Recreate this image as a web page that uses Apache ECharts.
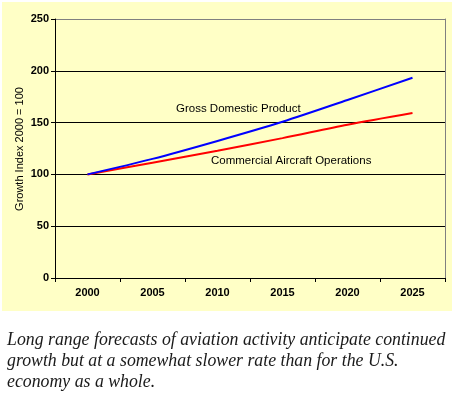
<!DOCTYPE html>
<html><head><meta charset="utf-8">
<script src="https://cdn.jsdelivr.net/npm/echarts@6/dist/echarts.min.js"></script>
<style>html,body{margin:0;padding:0;background:#fff}#c{width:458px;height:393px}</style>
</head><body><div id="c"></div>
<script>
var years = ['2000','2005','2010','2015','2020','2025'];
var gdp = [100, 115.0, 132.3, 150.8, 171.8, 193.3];
var ops = [100, 111.3, 122.8, 135.0, 148.0, 159.3];
var gdpLabel = 'Gross Domestic Product';
var opsLabel = 'Commercial Aircraft Operations';
var yTitle = 'Growth Index 2000 = 100';
var caption = ['Long range forecasts of aviation activity anticipate continued',
               'growth but at a somewhat slower rate than for the U.S.',
               'economy as a whole.'];

var chart = echarts.init(document.getElementById('c'), null, {renderer:'canvas'});
var tickFont = {color:'#000', fontFamily:'Arial, Liberation Sans, sans-serif', fontSize:11, fontWeight:'bold'};
chart.setOption({
  animation:false,
  backgroundColor:'#fff',
  grid:{left:55, right:13, top:19, bottom:115},
  graphic:[
    {type:'rect', z:-10, shape:{x:2,y:2,width:450,height:309}, style:{fill:'#FFFFC6'}},
    {type:'text', z:10, x:20, y:149, rotation:Math.PI/2,
     style:{text:yTitle, fill:'#000', align:'center', verticalAlign:'middle', font:'11px Arial, Liberation Sans, sans-serif'}},
    {type:'text', z:10, left:176, top:103, style:{text:gdpLabel, fill:'#000', font:'11.5px Arial, Liberation Sans, sans-serif'}},
    {type:'text', z:10, left:211, top:155, style:{text:opsLabel, fill:'#000', font:'11.5px Arial, Liberation Sans, sans-serif'}},
    {type:'text', z:10, left:7, top:330, style:{text:caption.join('\n'), fill:'#1a1a1a', lineHeight:21, font:'italic 17.8px "Liberation Serif", serif'}}
  ],
  xAxis:{
    type:'category', data:years, boundaryGap:true,
    axisLine:{lineStyle:{color:'#000', width:1}},
    axisTick:{show:true, interval:0, length:4, lineStyle:{color:'#000'}},
    axisLabel:Object.assign({margin:9, interval:0}, tickFont),
    splitLine:{show:false}
  },
  yAxis:[{
    type:'value', min:0, max:250, interval:50,
    axisLine:{show:true, lineStyle:{color:'#000', width:1}},
    axisTick:{show:true, length:4, lineStyle:{color:'#000'}},
    axisLabel:Object.assign({margin:6}, tickFont),
    splitLine:{show:true, lineStyle:{color:['#000','#000','#000','#000','#000','#808080'], width:1}}
  },{
    type:'value', min:0, max:250, interval:50, position:'right',
    axisLine:{show:true, lineStyle:{color:'#808080', width:1}},
    axisTick:{show:false}, axisLabel:{show:false}, splitLine:{show:false}
  }],
  series:[
    {type:'line', data:ops, smooth:0.3, showSymbol:false, lineStyle:{color:'#FF0000', width:2}, z:3},
    {type:'line', data:gdp, smooth:0.3, showSymbol:false, lineStyle:{color:'#0000FF', width:2}, z:4}
  ]
});
</script></body></html>
